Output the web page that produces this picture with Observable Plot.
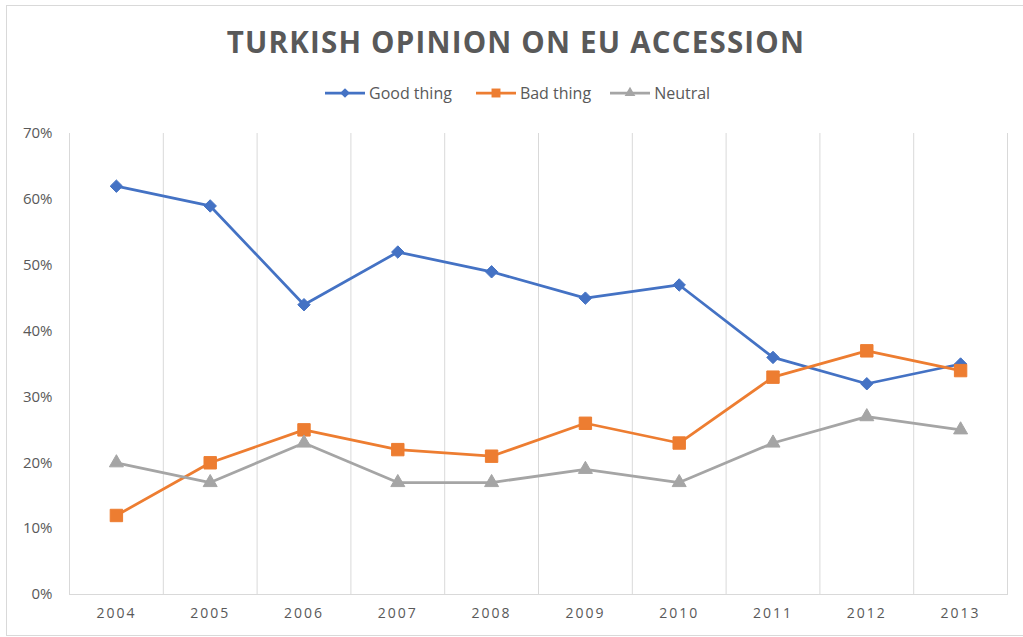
<!DOCTYPE html>
<html><head><meta charset="utf-8">
<script src="https://cdn.jsdelivr.net/npm/d3@7"></script>
<script src="https://cdn.jsdelivr.net/npm/@observablehq/plot@0.6"></script>
<style>
body{margin:0;background:#fff;font-family:"Open Sans",sans-serif;}
#wrap{position:relative;width:1023px;height:637px;overflow:hidden;background:#fff;}
#frame{position:absolute;left:6px;top:5px;width:1030px;height:631px;border:1px solid #d9d9d9;box-sizing:border-box;}
#title{position:absolute;top:22px;left:0;width:1032px;text-align:center;font-weight:700;font-size:29.5px;letter-spacing:1.2px;color:#595959;line-height:40px;}
#legend{position:absolute;top:82px;left:325px;display:flex;align-items:center;font-size:16px;color:#595959;line-height:22px;}
#legend .item{display:flex;align-items:center;}
#legend svg{margin-right:4px;}
#chart{position:absolute;top:110px;left:0;}
#chart g[aria-label="x-axis tick label"] text{letter-spacing:2px;}
</style>
</head><body>
<div id="wrap">
  <div id="frame"></div>
  <div id="title">TURKISH OPINION ON EU ACCESSION</div>
  <div id="legend"></div>
  <div id="chart"></div>
</div>
<script>
const years = ["2004","2005","2006","2007","2008","2009","2010","2011","2012","2013"];
const goodThing = [62,59,44,52,49,45,47,36,32,35];
const badThing = [12,20,25,22,21,26,23,33,37,34];
const neutral = [20,17,23,17,17,19,17,23,27,25];
const seriesNames = ["Good thing","Bad thing","Neutral"];
const seriesColors = ["#4472C4","#ED7D31","#A5A5A5"];
const seriesSymbols = ["diamond2","square","triangle"];
const yTicks = [0,10,20,30,40,50,60,70];

const seriesValues = [goodThing, badThing, neutral];
const data = seriesNames.flatMap((s, i) => years.map((y, j) => ({year: y, value: seriesValues[i][j] / 100, series: s})));

const W = 1023, H = 527, mL = 69, mR = 16, mT = 23, mB = 43;
const step = (W - mL - mR) / years.length;
const symSize = {"Good thing": 5.6, "Bad thing": 7, "Neutral": 5.2};

const chart = Plot.plot({
  width: W, height: H,
  marginLeft: mL, marginRight: mR, marginTop: mT, marginBottom: mB,
  style: {fontFamily: '"Open Sans", sans-serif', color: "#595959", background: "transparent"},
  x: {type: "point", domain: years, padding: 0.5, round: false},
  y: {domain: [0, 0.7]},
  color: {domain: seriesNames, range: seriesColors},
  symbol: {domain: seriesNames, range: seriesSymbols},
  marks: [
    Plot.frame({anchor: "left", stroke: "#d9d9d9"}),
    Plot.frame({anchor: "right", stroke: "#d9d9d9"}),
    Plot.ruleX(years.slice(1), {x: d => d, dx: -step / 2, stroke: "#d9d9d9", strokeWidth: 1}),
    Plot.ruleY([0], {stroke: "#d9d9d9", strokeWidth: 1}),
    Plot.axisY(yTicks.map(t => t / 100), {tickSize: 0, tickPadding: 17, tickFormat: d3.format(".0%"), fontSize: 15, label: null}),
    Plot.axisX(years, {tickSize: 0, tickPadding: 14, fontSize: 14, label: null}),
    Plot.line(data, {x: "year", y: "value", z: "series", stroke: "series", strokeWidth: 2.75}),
    ...seriesNames.map(s => Plot.dot(data.filter(d => d.series === s), {x: "year", y: "value", symbol: "series", fill: "series", stroke: "series", strokeWidth: 1, r: symSize[s]}))
  ]
});
document.getElementById("chart").appendChild(chart);

// legend
const legend = document.getElementById("legend");
const gaps = [24, 19, 0];
seriesNames.forEach((s, i) => {
  const item = document.createElement("div");
  item.className = "item";
  item.style.marginRight = gaps[i] + "px";
  const ns = "http://www.w3.org/2000/svg";
  const svg = document.createElementNS(ns, "svg");
  svg.setAttribute("width", 40); svg.setAttribute("height", 16);
  const line = document.createElementNS(ns, "line");
  line.setAttribute("x1", 0); line.setAttribute("x2", 40); line.setAttribute("y1", 8); line.setAttribute("y2", 8);
  line.setAttribute("stroke", seriesColors[i]); line.setAttribute("stroke-width", 2.75);
  svg.appendChild(line);
  const symMap = {diamond2: d3.symbolDiamond2, square: d3.symbolSquare, triangle: d3.symbolTriangle};
  const sizes = [60, 80, 50];
  const p = document.createElementNS(ns, "path");
  p.setAttribute("d", d3.symbol(symMap[seriesSymbols[i]], sizes[i])());
  p.setAttribute("transform", "translate(20,8)");
  p.setAttribute("fill", seriesColors[i]);
  svg.appendChild(p);
  item.appendChild(svg);
  const t = document.createElement("span");
  t.textContent = s;
  item.appendChild(t);
  legend.appendChild(item);
});
</script>
</body></html>
